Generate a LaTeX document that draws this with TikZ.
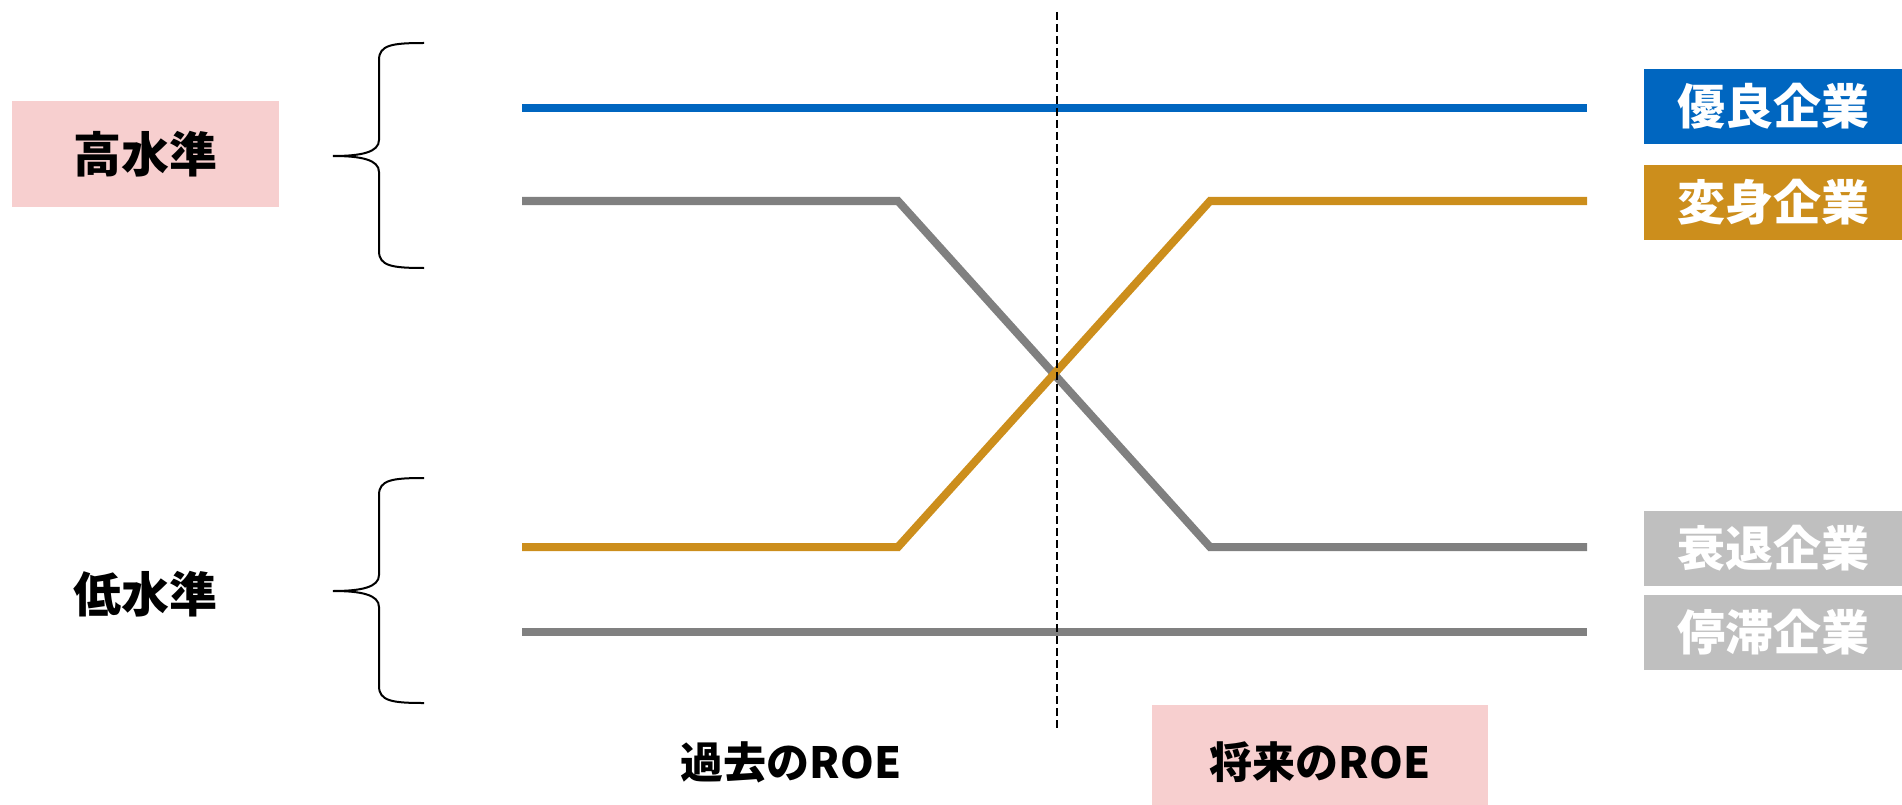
\documentclass[tikz,border=0pt]{standalone}
\usepackage{fontspec}
\newfontfamily\jp{Noto Sans CJK JP}
\definecolor{cblue}{RGB}{0,102,192}
\definecolor{corange}{RGB}{204,142,28}
\definecolor{cgrayline}{RGB}{128,128,128}
\definecolor{cgraybox}{RGB}{191,191,191}
\definecolor{cpink}{RGB}{247,207,207}
\tikzset{
  lbl/.style={font=\jp\bfseries\fontsize{48}{48}\selectfont, inner sep=0pt},
  axislbl/.style={font=\jp\bfseries\fontsize{43}{43}\selectfont, inner sep=0pt},
  tagbox/.style={fill=#1, minimum width=258pt, minimum height=75pt, inner sep=0pt, anchor=west,
    text=white, font=\jp\bfseries\fontsize{48}{48}\selectfont},
  trend/.style={line width=8pt, line cap=butt, line join=miter},
  brace/.style={line width=2pt, black},
}
\begin{document}
\begin{tikzpicture}[x=1pt,y=-1pt]
\useasboundingbox (0,0) rectangle (1902,805);
% coordinates
\coordinate (L) at (522,0);
\coordinate (R) at (1587,0);
% level labels
\node[lbl, fill=cpink, minimum width=267pt, minimum height=106pt] (high) at (145.5,154) {高水準};
\node[lbl] (low) at (145,594) {低水準};
% braces
\draw[brace] (424,43) .. controls (392,43) and (379,45) .. (379,60) -- (379,140)
  .. controls (379,152) and (362,156) .. (333,156)
  .. controls (362,156) and (379,160) .. (379,172) -- (379,251)
  .. controls (379,266) and (392,268) .. (424,268);
\draw[brace] (424,478) .. controls (392,478) and (379,480) .. (379,495) -- (379,575)
  .. controls (379,587) and (362,591) .. (333,591)
  .. controls (362,591) and (379,595) .. (379,607) -- (379,686)
  .. controls (379,701) and (392,703) .. (424,703);
% trend lines
\coordinate (g1a) at (522,201);
\coordinate (g1b) at (898,201);
\coordinate (g1c) at (1210,547);
\coordinate (g1d) at (1587,547);
\coordinate (o1a) at (522,547);
\coordinate (o1b) at (898,547);
\coordinate (o1c) at (1210,201);
\coordinate (o1d) at (1587,201);
\coordinate (b1a) at (522,108);
\coordinate (b1b) at (1587,108);
\coordinate (g2a) at (522,632);
\coordinate (g2b) at (1587,632);
\draw[trend, cblue] (b1a) -- (b1b);
\draw[trend, cgrayline] (g2a) -- (g2b);
\draw[trend, cgrayline] (g1a) -- (g1b) -- (g1c) -- (g1d);
\draw[trend, corange] (o1a) -- (o1b) -- (o1c) -- (o1d);
% divider
\coordinate (dtop) at (1057,12);
\coordinate (dbot) at (1057,728);
\draw[line width=2pt, dash pattern=on 8pt off 4pt] (dtop) -- (dbot);
% company tags
\node[tagbox=cblue] (t1) at (1644,106.5) {優良企業};
\node[tagbox=corange] (t2) at (1644,202.5) {変身企業};
\node[tagbox=cgraybox] (t3) at (1644,548) {衰退企業};
\node[tagbox=cgraybox] (t4) at (1644,632.5) {停滞企業};
% axis labels
\node[axislbl] (past) at (791,762) {過去のROE};
\node[axislbl, fill=cpink, minimum width=336pt, minimum height=100pt] (futbox) at (1320,755) {};
\node[axislbl] (future) at (1320,762) {将来のROE};
\end{tikzpicture}
\end{document}
